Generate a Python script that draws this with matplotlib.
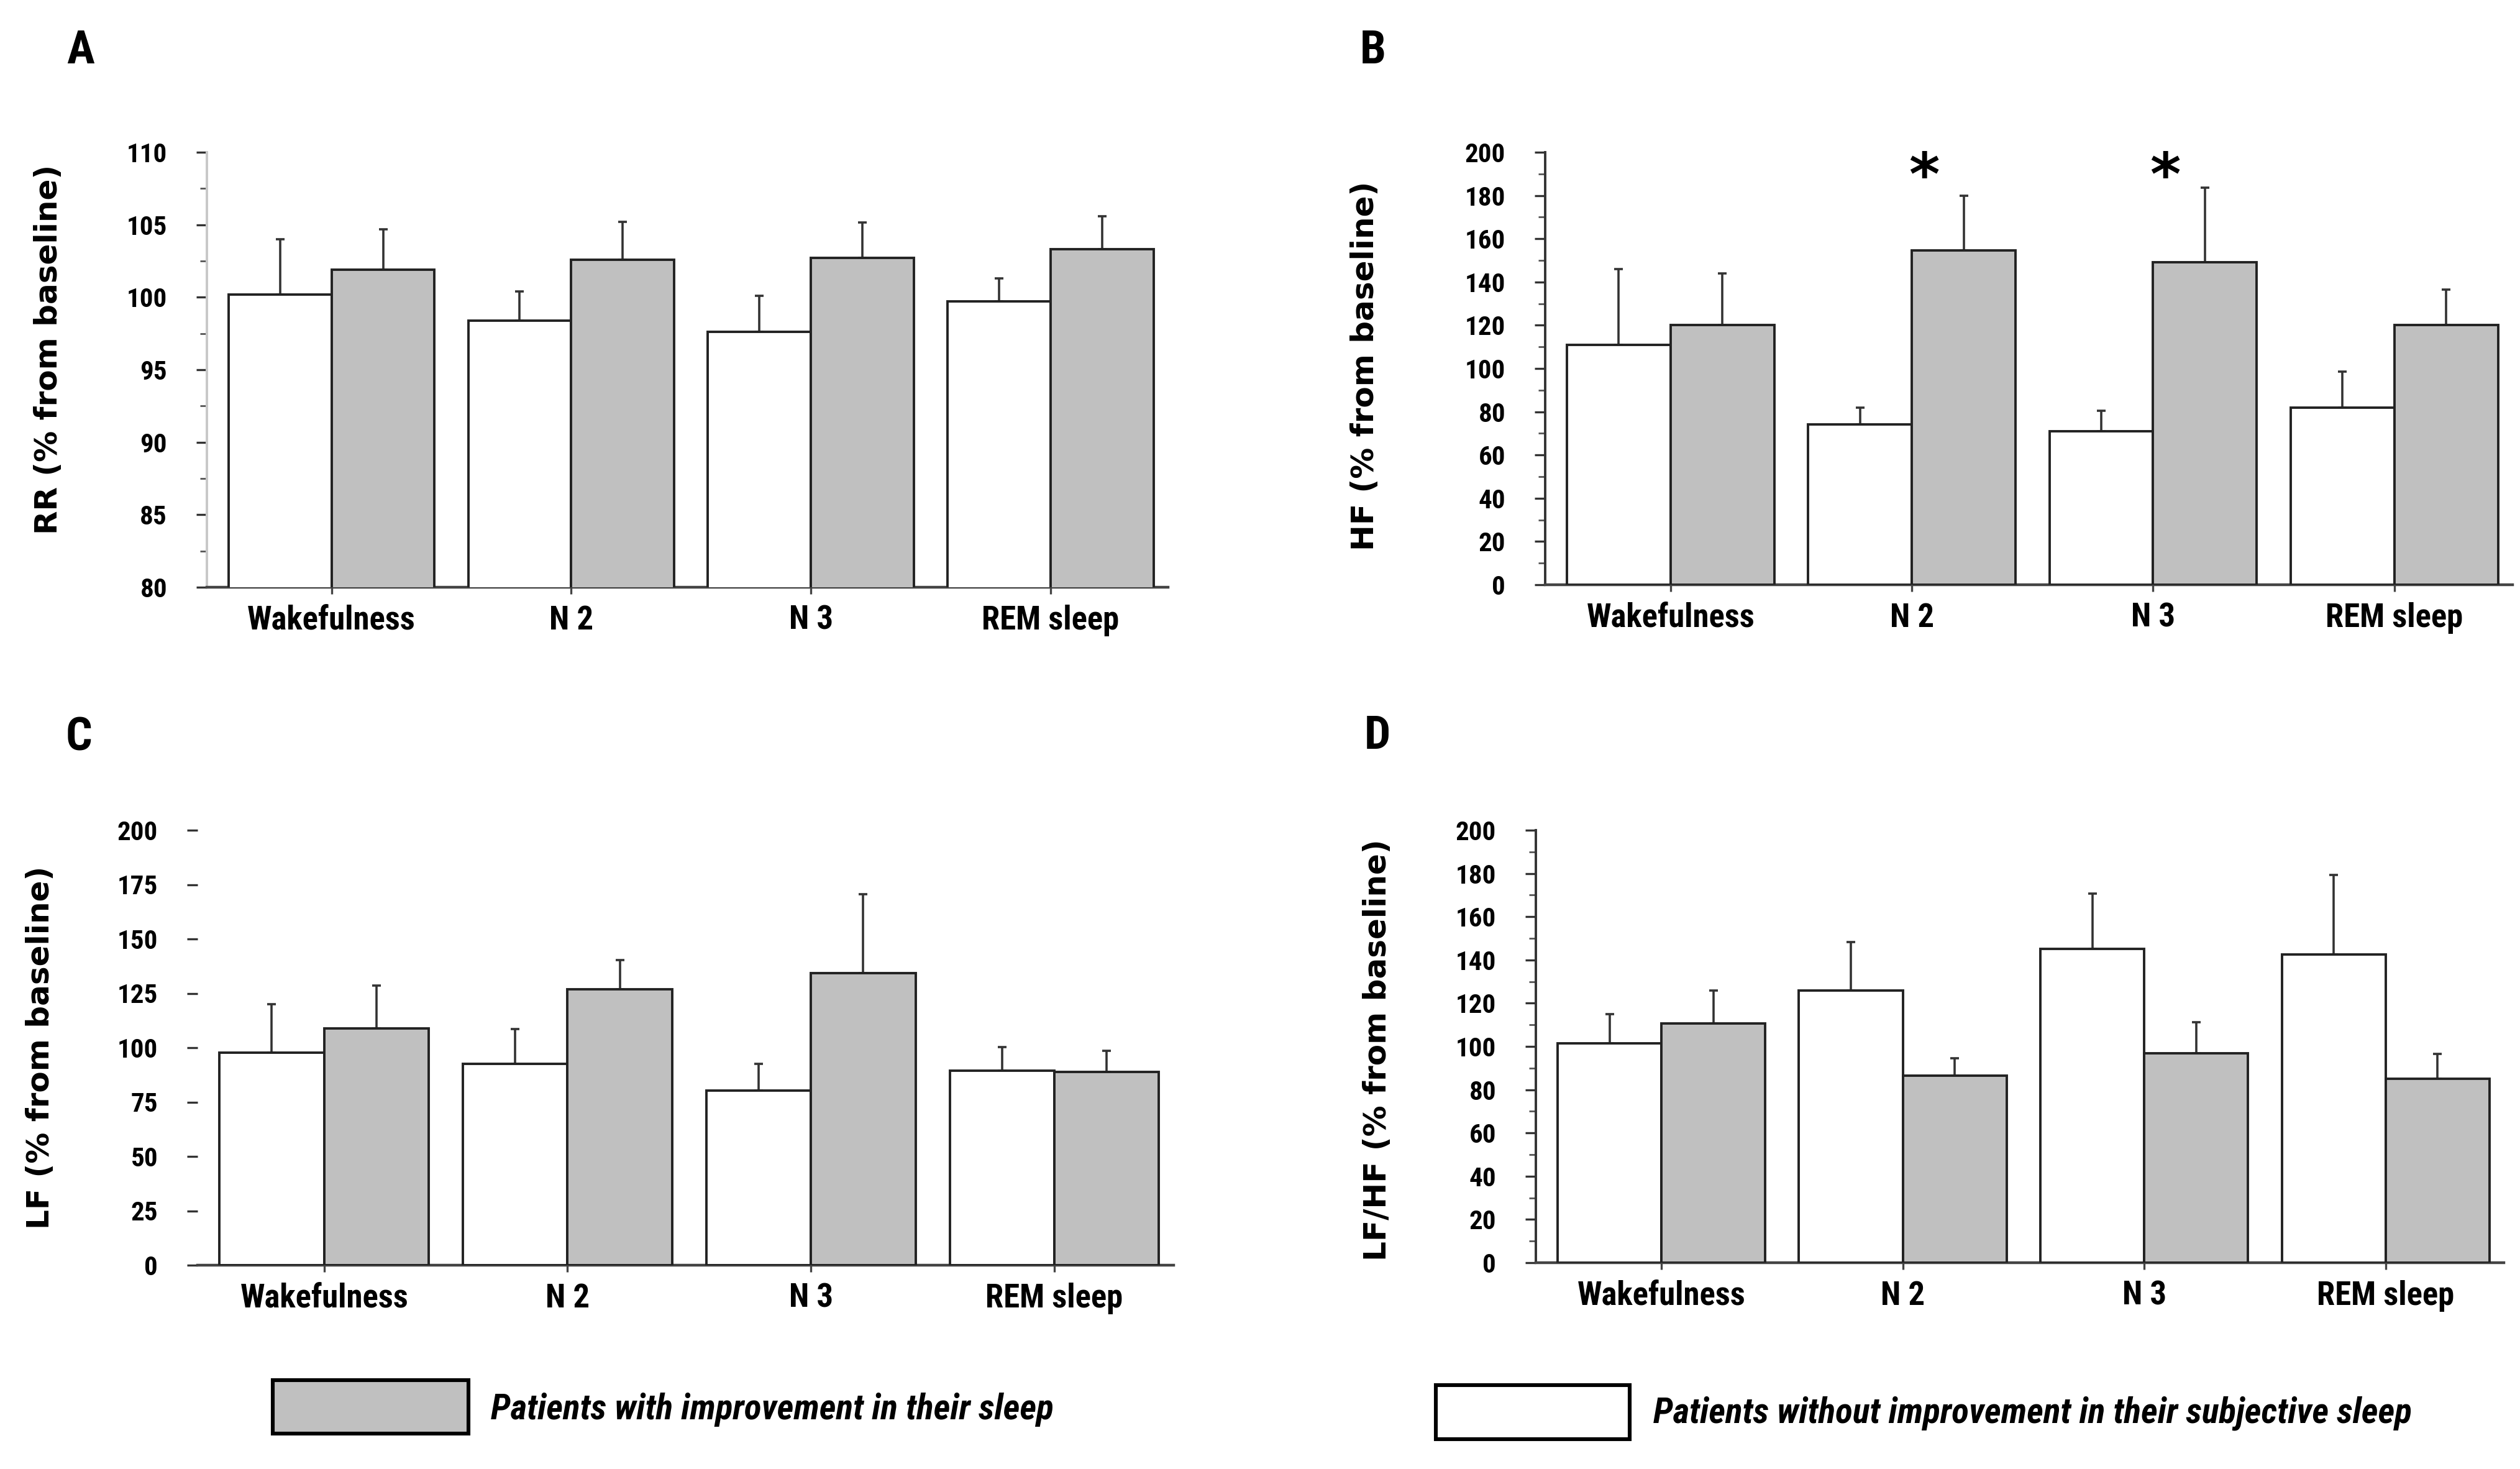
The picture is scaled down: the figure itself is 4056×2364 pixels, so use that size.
import numpy as np
import matplotlib
matplotlib.use("Agg")
import matplotlib.pyplot as plt
from matplotlib import font_manager as fm
from matplotlib.ticker import MultipleLocator
from matplotlib.patches import Rectangle

W, H = 4056, 2364
DPI = 200

etapes = ["Wakefulness", "N 2", "N 3", "REM sleep"]

# moyennes et erreurs (lecture du graphique)
rr_sans   = [100.2, 98.4, 97.6, 99.7]
rr_sans_e = [3.8, 2.0, 2.5, 1.6]
rr_avec   = [101.9, 102.6, 102.7, 103.3]
rr_avec_e = [2.8, 2.6, 2.45, 2.3]

hf_sans   = [111, 74, 71, 82]
hf_sans_e = [35, 8, 9.5, 16.5]
hf_avec   = [120, 154.5, 149, 120]
hf_avec_e = [24, 25.5, 34.5, 16.5]

lf_sans   = [97.7, 92.6, 80.3, 89.4]
lf_sans_e = [22.3, 16, 12.3, 10.8]
lf_avec   = [109, 127, 134.3, 88.9]
lf_avec_e = [19.7, 13.3, 36.3, 9.7]

ratio_sans   = [101.5, 126, 145, 142.5]
ratio_sans_e = [13.3, 22.3, 25.7, 36.8]
ratio_avec   = [110.6, 86.6, 96.9, 85.2]
ratio_avec_e = [15.4, 7.9, 14.4, 11.4]

signif_hf = [1, 2]   # étoiles au-dessus de N 2 et N 3

# police étroite si disponible
dispo = set(fm.get_font_names())
NARROW = "Open Sans"
for nom in ["Liberation Sans Narrow", "Roboto Condensed", "Open Sans Condensed",
            "Noto Sans Condensed", "DejaVu Sans Condensed", "Open Sans"]:
    if nom in dispo:
        NARROW = nom
        break
etroite = NARROW != "Open Sans"

GRIS = "#c0c0c0"


def px_rect(left, top, right, bottom):
    return [left / W, 1 - bottom / H, (right - left) / W, (bottom - top) / H]


fig = plt.figure(figsize=(W / DPI, H / DPI), dpi=DPI)

panneaux = [
    ("A", "RR (% from baseline)", px_rect(333, 245, 1880, 945),
     rr_sans, rr_sans_e, rr_avec, rr_avec_e, (80, 110), 5, 2.5, "#c8c8c8",
     (130, 82), (78, 562)),
    ("B", "HF (% from baseline)", px_rect(2487, 245, 4044, 941),
     hf_sans, hf_sans_e, hf_avec, hf_avec_e, (0, 200), 20, 10, "#333333",
     (2210, 82), (2197, 589)),
    ("C", "LF (% from baseline)", px_rect(318, 1336, 1889, 2036),
     lf_sans, lf_sans_e, lf_avec, lf_avec_e, (0, 200), 25, None, None,
     (127, 1188), (65, 1686)),
    ("D", "LF/HF (% from baseline)", px_rect(2472, 1336, 4030, 2032),
     ratio_sans, ratio_sans_e, ratio_avec, ratio_avec_e, (0, 200), 20, 10, "#333333",
     (2217, 1185), (2217, 1690)),
]

x = np.arange(len(etapes))
w = 0.43
fs_cat = 19 if etroite else 16.5
fs_tick = 15.5 if etroite else 13.5
fs_leg = 20.7 if etroite else 17

for (lettre, ylab, rect, sans, sans_e, avec, avec_e, ylim, maj, mino, spine_col,
     pos_lettre, pos_ylab) in panneaux:
    ax = fig.add_axes(rect)

    ax.bar(x - w / 2, sans, width=w, color="white", edgecolor="#222222", linewidth=1.4, zorder=3)
    ax.bar(x + w / 2, avec, width=w, color=GRIS, edgecolor="#222222", linewidth=1.4, zorder=3)

    ax.errorbar(x - w / 2, sans, yerr=[np.zeros(4), sans_e], fmt="none",
                ecolor="#333333", elinewidth=1.3, capsize=2.5, capthick=1.3, zorder=2)
    ax.errorbar(x + w / 2, avec, yerr=[np.zeros(4), avec_e], fmt="none",
                ecolor="#333333", elinewidth=1.3, capsize=2.5, capthick=1.3, zorder=2)

    ax.set_xlim(-0.52, 3.49)
    ax.set_ylim(*ylim)
    ax.yaxis.set_major_locator(MultipleLocator(maj))
    if mino:
        ax.yaxis.set_minor_locator(MultipleLocator(mino))
        ax.tick_params(axis="y", which="minor", length=4, width=1, color="#555555")

    ax.set_xticks(x)
    ax.set_xticklabels(etapes, fontfamily=NARROW, fontweight="bold", fontsize=fs_cat)
    ax.tick_params(axis="x", length=4, width=1.2, color="#444444", pad=6)
    ax.tick_params(axis="y", which="major", length=6, width=1.2, color="#333333", pad=17)
    for lab in ax.get_yticklabels():
        lab.set_fontfamily(NARROW)
        lab.set_fontweight("bold")
        lab.set_fontsize(fs_tick)

    ax.spines["top"].set_visible(False)
    ax.spines["right"].set_visible(False)
    ax.spines["bottom"].set_color("#444444")
    ax.spines["bottom"].set_linewidth(1.6)
    if spine_col is None:
        ax.spines["left"].set_visible(False)
    else:
        ax.spines["left"].set_color(spine_col)
        ax.spines["left"].set_linewidth(1.4)

    if lettre == "B":
        for i in signif_hf:
            ax.text(i + 0.05, 188, "*", ha="center", va="center",
                    fontsize=34, fontweight="bold", fontfamily="DejaVu Sans")

    fig.text(pos_lettre[0] / W, 1 - pos_lettre[1] / H, lettre, ha="center", va="center",
             fontsize=27, fontweight="bold", fontfamily=NARROW)
    fig.text(pos_ylab[0] / W, 1 - pos_ylab[1] / H, ylab, rotation=90, ha="center", va="center",
             fontsize=18, fontweight="bold", fontfamily="DejaVu Sans")

# légende
fig.patches.append(Rectangle((439 / W, 1 - 2307 / H), (754 - 439) / W, (2307 - 2221) / H,
                             transform=fig.transFigure, facecolor=GRIS, edgecolor="black",
                             linewidth=2.2))
fig.text(790 / W, 1 - 2268 / H, "Patients with improvement in their sleep",
         ha="left", va="center", fontsize=fs_leg, fontweight="bold", style="italic",
         fontfamily=NARROW)
fig.patches.append(Rectangle((2311 / W, 1 - 2316 / H), (2623 - 2311) / W, (2316 - 2229) / H,
                             transform=fig.transFigure, facecolor="white", edgecolor="black",
                             linewidth=2.2))
fig.text(2661 / W, 1 - 2274 / H, "Patients without improvement in their subjective sleep",
         ha="left", va="center", fontsize=fs_leg, fontweight="bold", style="italic",
         fontfamily=NARROW)

fig.savefig("out.png", dpi=DPI)
